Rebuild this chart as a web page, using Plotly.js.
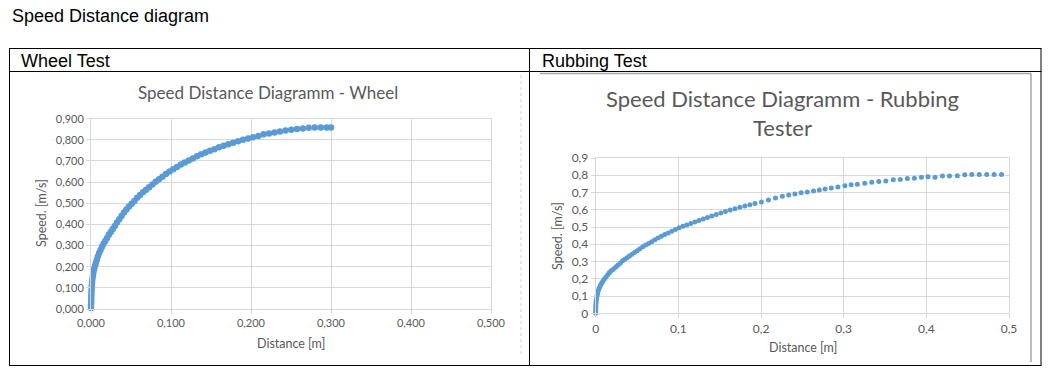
<!DOCTYPE html>
<html>
<head>
<meta charset="utf-8">
<script src="https://cdn.plot.ly/plotly-3.0.1.min.js"></script>
<style>
html,body{margin:0;padding:0;background:#fff;}
#chart{width:1061px;height:388px;}
</style>
</head>
<body>
<div id="chart"></div>
<script>
// ---------- text ----------
const pageTitle = 'Speed Distance diagram';
const panelTitles = ['Wheel Test', 'Rubbing Test'];
const chartTitles = ['Speed Distance Diagramm - Wheel', 'Speed Distance Diagramm - Rubbing<br>Tester'];
const xAxisTitle = 'Distance [m]';
const yAxisTitle = 'Speed. [m/s]';

// ---------- data: Wheel test ----------
const wheelDistance = [
  0.0000, 0.0000, 0.0003, 0.0003, 0.0005, 0.0006, 0.0008, 0.0010, 0.0013, 0.0018,
  0.0024, 0.0031, 0.0039, 0.0049, 0.0060, 0.0073, 0.0087, 0.0102, 0.0119, 0.0137,
  0.0157, 0.0178, 0.0200, 0.0223, 0.0247, 0.0272, 0.0298, 0.0325, 0.0353, 0.0382,
  0.0412, 0.0443, 0.0475, 0.0508, 0.0542, 0.0577, 0.0613, 0.0650, 0.0688, 0.0727,
  0.0767, 0.0808, 0.0850, 0.0893, 0.0937, 0.0982, 0.1028, 0.1075, 0.1123, 0.1172,
  0.1222, 0.1273, 0.1325, 0.1378, 0.1432, 0.1487, 0.1543, 0.1600, 0.1658, 0.1717,
  0.1777, 0.1838, 0.1900, 0.1963, 0.2027, 0.2092, 0.2158, 0.2225, 0.2293, 0.2362,
  0.2432, 0.2503, 0.2575, 0.2648, 0.2722, 0.2797, 0.2872, 0.2947, 0.3000
];
const wheelSpeed = [
  0.005, 0.020, 0.035, 0.050, 0.065, 0.080, 0.095, 0.110, 0.125, 0.142,
  0.158, 0.175, 0.189, 0.203, 0.218, 0.233, 0.249, 0.265, 0.279, 0.294,
  0.309, 0.322, 0.336, 0.351, 0.364, 0.378, 0.393, 0.409, 0.425, 0.440,
  0.456, 0.471, 0.485, 0.498, 0.511, 0.526, 0.539, 0.552, 0.564, 0.576,
  0.589, 0.602, 0.614, 0.626, 0.638, 0.650, 0.661, 0.672, 0.683, 0.693,
  0.702, 0.712, 0.722, 0.732, 0.740, 0.748, 0.756, 0.765, 0.772, 0.779,
  0.786, 0.793, 0.800, 0.806, 0.812, 0.818, 0.826, 0.830, 0.835, 0.840,
  0.844, 0.848, 0.851, 0.854, 0.857, 0.858, 0.858, 0.858, 0.858
];

// ---------- data: Rubbing test ----------
const rubbingDistance = [
  0.0000, 0.0000, 0.0000, 0.0001, 0.0002, 0.0004, 0.0007, 0.0011, 0.0016, 0.0023,
  0.0032, 0.0042, 0.0053, 0.0065, 0.0079, 0.0094, 0.0110, 0.0127, 0.0145, 0.0164,
  0.0184, 0.0205, 0.0227, 0.0250, 0.0274, 0.0299, 0.0325, 0.0352, 0.0380, 0.0409,
  0.0439, 0.0470, 0.0502, 0.0535, 0.0569, 0.0604, 0.0640, 0.0677, 0.0715, 0.0754,
  0.0794, 0.0835, 0.0877, 0.0920, 0.0964, 0.1009, 0.1055, 0.1102, 0.1150, 0.1199,
  0.1249, 0.1300, 0.1352, 0.1405, 0.1459, 0.1514, 0.1570, 0.1627, 0.1685, 0.1744,
  0.1804, 0.1865, 0.1927, 0.2005, 0.2090, 0.2175, 0.2258, 0.2335, 0.2410, 0.2485,
  0.2560, 0.2635, 0.2705, 0.2775, 0.2850, 0.2930, 0.3015, 0.3090, 0.3165, 0.3255,
  0.3340, 0.3425, 0.3510, 0.3600, 0.3685, 0.3770, 0.3855, 0.3940, 0.4020, 0.4105,
  0.4195, 0.4280, 0.4375, 0.4465, 0.4550, 0.4640, 0.4730, 0.4820, 0.4910
];
const rubbingSpeed = [
  0.000, 0.012, 0.025, 0.038, 0.050, 0.062, 0.075, 0.088, 0.101, 0.115,
  0.132, 0.145, 0.157, 0.168, 0.180, 0.192, 0.202, 0.212, 0.224, 0.235,
  0.245, 0.253, 0.261, 0.271, 0.281, 0.292, 0.304, 0.313, 0.322, 0.332,
  0.342, 0.353, 0.363, 0.374, 0.386, 0.396, 0.405, 0.415, 0.426, 0.436,
  0.446, 0.456, 0.466, 0.476, 0.486, 0.496, 0.504, 0.512, 0.521, 0.529,
  0.538, 0.547, 0.555, 0.564, 0.573, 0.581, 0.590, 0.598, 0.606, 0.614,
  0.622, 0.629, 0.636, 0.645, 0.656, 0.668, 0.678, 0.686, 0.692, 0.698,
  0.703, 0.709, 0.714, 0.720, 0.726, 0.732, 0.739, 0.745, 0.748, 0.753,
  0.759, 0.764, 0.767, 0.774, 0.776, 0.781, 0.783, 0.788, 0.791, 0.789,
  0.796, 0.796, 0.797, 0.803, 0.804, 0.804, 0.804, 0.804, 0.804
];

// ---------- ticks ----------
const wheelXTicks = [0, 0.1, 0.2, 0.3, 0.4, 0.5];
const wheelXTickText = ['0,000', '0,100', '0,200', '0,300', '0,400', '0,500'];
const wheelYTicks = [0, 0.1, 0.2, 0.3, 0.4, 0.5, 0.6, 0.7, 0.8, 0.9];
const wheelYTickText = ['0,000', '0,100', '0,200', '0,300', '0,400', '0,500', '0,600', '0,700', '0,800', '0,900'];
const rubbingXTicks = [0, 0.1, 0.2, 0.3, 0.4, 0.5];
const rubbingXTickText = ['0', '0,1', '0,2', '0,3', '0,4', '0,5'];
const rubbingYTicks = [0, 0.1, 0.2, 0.3, 0.4, 0.5, 0.6, 0.7, 0.8, 0.9];
const rubbingYTickText = ['0', '0,1', '0,2', '0,3', '0,4', '0,5', '0,6', '0,7', '0,8', '0,9'];

// ---------- layout helpers ----------
const W = 1061, H = 388;
const px = x => x / W;
const py = y => 1 - y / H;
const BLUE = '#5B9BD5';
const GRID = '#d9d9d9';
const TXT = '#595959';
const CHART_FONT = 'Lato, "Open Sans", sans-serif';
const DOC_FONT = 'Arial, "Liberation Sans", sans-serif';

function axisStyle(tickvals, ticktext, range, fontSize) {
  return {
    range: range, tickmode: 'array', tickvals: tickvals, ticktext: ticktext,
    showgrid: true, gridcolor: GRID, gridwidth: 1,
    zeroline: false, showline: true, linecolor: GRID, linewidth: 1, mirror: true,
    ticks: 'outside', ticklen: 4, tickcolor: GRID, tickwidth: 1,
    tickfont: {family: CHART_FONT, size: fontSize, color: TXT},
    fixedrange: true
  };
}

const traces = [
  {x: wheelDistance, y: wheelSpeed, xaxis: 'x', yaxis: 'y', type: 'scatter', mode: 'markers',
   marker: {color: BLUE, size: 6.5}, cliponaxis: false, hoverinfo: 'skip', showlegend: false},
  {x: rubbingDistance, y: rubbingSpeed, xaxis: 'x2', yaxis: 'y2', type: 'scatter', mode: 'markers',
   marker: {color: BLUE, size: 5}, cliponaxis: false, hoverinfo: 'skip', showlegend: false}
];

const line = (x0, y0, x1, y1, color, width, dash) => ({
  type: 'line', xref: 'paper', yref: 'paper',
  x0: px(x0), y0: py(y0), x1: px(x1), y1: py(y1),
  line: {color: color, width: width, dash: dash || 'solid'}, layer: 'above'
});

const shapes = [
  // table
  line(9, 48.5, 1041.5, 48.5, '#000', 1),
  line(9, 71.5, 1041.5, 71.5, '#000', 1),
  line(9, 365.5, 1041.5, 365.5, '#000', 1),
  line(9.5, 48.5, 9.5, 365.5, '#000', 1),
  line(529.5, 48.5, 529.5, 365.5, '#000', 1),
  line(1041, 48.5, 1041, 365.5, '#000', 1),
  // chart object frames
  line(540, 73.5, 1031, 73.5, '#a6a6a6', 1.5),
  line(1031, 73.5, 1031, 362, '#a6a6a6', 1.5),
  line(521, 75, 521, 357, '#d0d0d0', 1, 'dot')
];

const ann = (text, x, y, size, opts) => Object.assign({
  text: text, xref: 'paper', yref: 'paper', x: px(x), y: py(y),
  showarrow: false, xanchor: 'center', yanchor: 'middle',
  font: {family: CHART_FONT, size: size, color: TXT}
}, opts || {});

const annotations = [
  ann(pageTitle, 10, 16, 18, {xanchor: 'left', font: {family: DOC_FONT, size: 18, color: '#000'}}),
  ann(panelTitles[0], 19, 61, 18, {xanchor: 'left', font: {family: DOC_FONT, size: 18, color: '#000'}}),
  ann(panelTitles[1], 540, 61, 18, {xanchor: 'left', font: {family: DOC_FONT, size: 18, color: '#000'}}),
  ann(chartTitles[0], 268, 92, 17),
  ann(chartTitles[1], 782, 113, 22),
  ann(xAxisTitle, 291, 343, 12.5),
  ann(yAxisTitle, 41, 213, 12.5, {textangle: -90}),
  ann(xAxisTitle, 803, 347, 12.5),
  ann(yAxisTitle, 558, 236, 12.5, {textangle: -90})
];

const layout = {
  width: W, height: H,
  margin: {l: 0, r: 0, t: 0, b: 0, pad: 0},
  paper_bgcolor: '#fff', plot_bgcolor: '#fff',
  showlegend: false,
  xaxis: Object.assign(axisStyle(wheelXTicks, wheelXTickText, [0, 0.5], 11),
    {domain: [px(91), px(491)], anchor: 'y'}),
  yaxis: Object.assign(axisStyle(wheelYTicks, wheelYTickText, [0, 0.9], 11),
    {domain: [py(309), py(118.7)], anchor: 'x'}),
  xaxis2: Object.assign(axisStyle(rubbingXTicks, rubbingXTickText, [0, 0.5], 12),
    {domain: [px(595.7), px(1009)], anchor: 'y2'}),
  yaxis2: Object.assign(axisStyle(rubbingYTicks, rubbingYTickText, [0, 0.9], 12),
    {domain: [py(313.3), py(158)], anchor: 'x2'}),
  shapes: shapes,
  annotations: annotations
};

Plotly.newPlot('chart', traces, layout, {displayModeBar: false, staticPlot: true});
</script>
</body>
</html>
